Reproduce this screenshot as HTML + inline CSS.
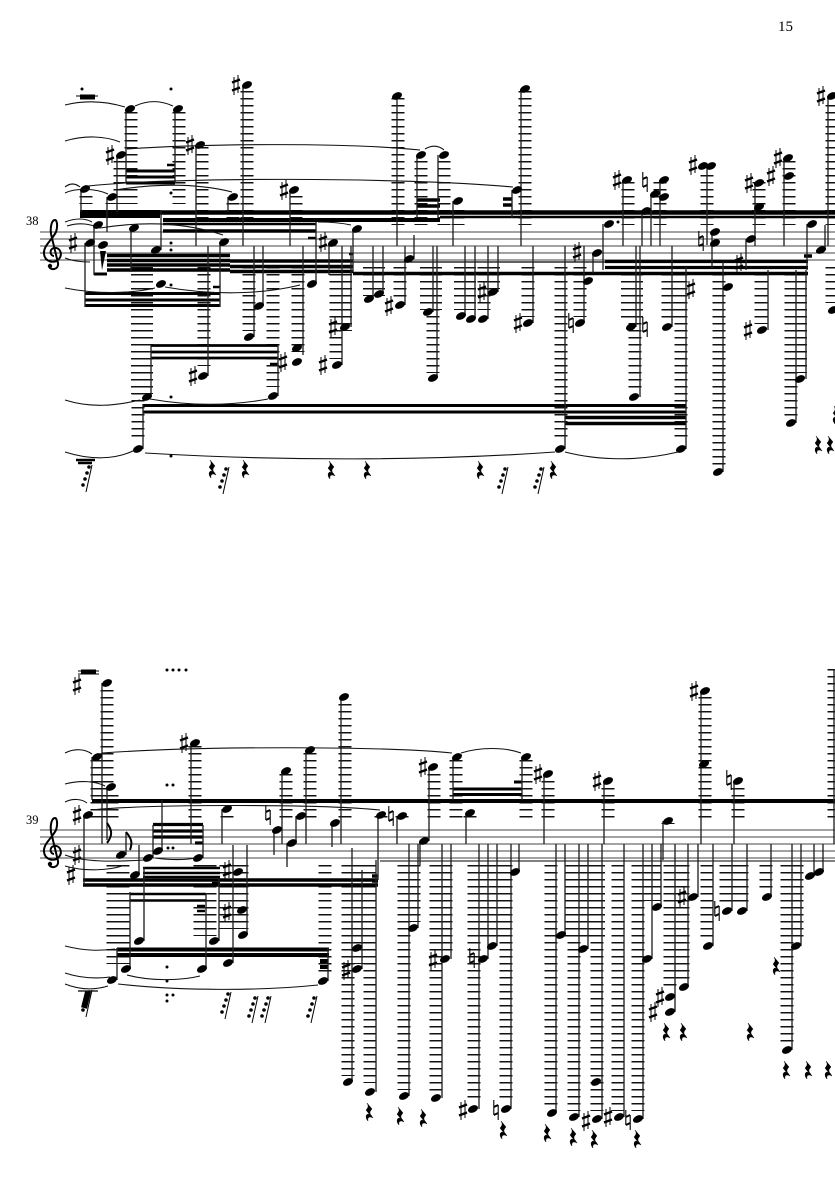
<!DOCTYPE html>
<html><head><meta charset="utf-8"><style>
html,body{margin:0;padding:0;background:#fff}
svg{display:block}
.s{stroke:#222;stroke-width:1.35;fill:none}
.st{stroke:#444;stroke-width:1;fill:none}
.b{stroke:#000;fill:none}
.sl{stroke:#111;stroke-width:1.1;fill:none}
.l{stroke:#111;fill:none;stroke-dasharray:1.5 5.5}
text{font-family:"Liberation Serif",serif;fill:#000}
</style></head><body>
<svg width="835" height="1181" viewBox="0 0 835 1181" xmlns="http://www.w3.org/2000/svg">
<defs>
<ellipse id="n" rx="5.3" ry="3.4" transform="rotate(-25)"/>
<g id="sh" stroke="#000" fill="none"><path d="M-2 -8V10M2 -10V8" stroke-width="1"/><path d="M-4 -2.500L4 -5.500M-4 5.500L4 2.500" stroke-width="2.400"/></g>
<g id="na" stroke="#000" fill="none"><path d="M-2.200 -10V5M2.200 -5V10" stroke-width="1.100"/><path d="M-2.200 -3L2.200 -5M-2.200 5L2.200 3" stroke-width="2"/></g>
<path id="r" d="M-2 -9L3 -3C1 -1 0 1 2 3L4 6C1 4 -2 5 -1 9C-3 7 -4 3 -1 2L1 3L-3 -2C-1 -4 0 -6 -2 -9Z" fill="#000" stroke="#000" stroke-width=".5"/>
<g id="r3"><path d="M5 -13L-1 14" stroke="#000" stroke-width="1"/><circle cx="2" cy="-11" r="1.800"/><circle cx="0" cy="-5" r="1.800"/><circle cx="-2" cy="1" r="1.800"/><circle cx="-4" cy="7" r="1.800"/></g>
<path id="c" d="M54 256C50 256 49 249 54 248C60 247 63 254 59 259C54 264 45 262 44 254C43 246 52 240 56 232C58 226 57 220 55 220C52 220 50 226 51 234L58 263C59 270 50 271 49 266" fill="none" stroke="#000" stroke-width="2"/>
</defs>

<text x="778" y="31" font-size="15">15</text>
<text x="26" y="225" font-size="12.500">38</text>
<text x="26" y="824" font-size="12.500">39</text>

<!-- staves -->
<path class="st" d="M40 232H835M40 239H835M40 246H835M40 253H835M40 260H835M40 830H835M40 837H835M40 844H835M40 851H835M40 858H835"/>
<use href="#c"/><use href="#c" y="598"/>
<circle cx="50" cy="266" r="2.200"/><circle cx="50" cy="864" r="2.200"/>

<!-- ledgers S1 -->
<g class="l">
<path stroke-width="13" d="M131 112V204M179 112V204M120 161V204M86 196V204M112 203V204M202 147V225M247 91V225M233 203V225M296 196V225M398 98V225M421 161V225M444 161V225M458 210V225M525 91V225M628 182V225M660 182V225M707 175V225M759 182V225M789 161V225M832 105V225"/>
<path stroke-width="13" d="M138 267V442M204 267V366M249 267V331M273 267V387M298 267V352M336 267V359M400 267V300M433 267V373M484 267V310M528 267V317M561 267V442M580 267V317M635 267V391M668 267V321M681 267V442M719 267V466M761 267V324M791 267V417M832 267V303"/>
<path stroke-width="22" d="M142 267V394M341 267V331M374 267V296M431 267V310M465 267V310M489 267V289M632 267V321M796 267V373"/>
</g>
<!-- ledgers S2 -->
<g class="l">
<path stroke-width="13" d="M107 690V823M97 760V823M112 795V823M195 746V823M286 774V823M310 753V823M227 816V823M345 704V823M381 816V823M402 816V823M434 774V823M456 760V823M470 816V823M526 760V823M548 781V823M608 788V823M668 823V824M705 697V823M738 788V823M834 669V823"/>
<path stroke-width="13" d="M325 865V974M348 865V1076M370 865V1083M404 865V1090M436 865V1091M474 865V1103M506 865V1103M551 865V1107M574 865V1111M597 865V1111M618 865V1111M638 865V1111M670 865V991M683 865V981M707 865V940M766 865V891M787 865V1044"/>
<path stroke-width="23" d="M118 865V964M205 865V936M360 865V964M409 865V922M441 865V952M792 865V940"/>
<path stroke-width="29" d="M234 865V929M647 865V901M734 865V905"/>
<path stroke-width="40" d="M489 865V940M585 865V940"/>
</g>

<!-- beams S1 -->
<g class="b">
<path stroke-width="4.500" d="M160 212.500H835"/>
<path stroke-width="8" d="M80 214H160"/>
<path stroke-width="4" d="M163 220H440"/>
<path stroke-width="2.400" d="M440 217H835"/>
<path stroke-width="2.500" d="M163 224H316"/>
<path stroke-width="3.500" d="M163 231H316"/>
<path stroke-width="2.500" d="M308 238H316M349 254H353M167 165H175M213 287H220M270 364H278"/>
<path stroke-width="3" d="M126 171H175M126 177H175M126 183H175M94 274H107"/>
<path stroke-width="3.500" d="M417 200H440M417 206H440M503 199H512M503 205H512M804 256H812"/>
<path stroke-width="3.500" d="M107 255.500H230M107 260.500H230M107 265H230M107 270H230"/>
<path stroke-width="3.500" d="M230 261H353M230 266.500H353M230 271.500H353"/>
<path stroke-width="1.200" d="M353 262H605"/>
<path stroke-width="3.500" d="M353 273.500H808"/>
<path stroke-width="3.200" d="M605 261.500H808M605 267.500H808"/>
<path stroke-width="3" d="M85 293.500H220M85 300H220M85 305.500H220"/>
<path stroke-width="2.800" d="M151 345.500H278M151 352H278M151 358H278"/>
<path stroke-width="3" d="M143 405.500H686M143 412H686"/>
<path stroke-width="3.500" d="M565 417.500H686M565 423.500H686"/>
<path stroke-width="5" d="M80 97H95"/><path stroke-width="1" d="M76 96H98"/>
</g>
<!-- beams S2 -->
<g class="b">
<path stroke-width="4" d="M92 801H835"/>
<path stroke-width="5" d="M81 672H96"/><path stroke-width="1" d="M78 671H99M78 674H99"/>
<path stroke-width="3.200" d="M153 824.500H203M153 831H203M153 837H203M195 843H203"/>
<path stroke-width="2.500" d="M143 868H220M143 873H220M143 877H220M212 883H220"/>
<path stroke-width="3.500" d="M83 880H378M83 885H378M372 876H378M372 881H378"/>
<path stroke-width="2.500" d="M130 894H206M130 900.500H206M197 906H205M197 911H205"/>
<path stroke-width="4" d="M117 949.500H329M117 955H329M320 961H328M320 967H328"/>
<path stroke-width="3" d="M453 789H522M453 794.500H522M514 782H522"/>
<path stroke-width="1" d="M380 861H835"/>
</g>

<!-- stems -->
<path class="s" d="M126 109V183M175 109V183M117 155V212M81 189V212M107 197V232M196 145V246M243 85V246M228 197V212M290 190V246M94 225V275M85 243V307M131 228V272M161 210V250M220 242V307M208 246V376M254 246V337M263 246V306M303 246V355M316 222V284M329 243V275M353 229V272M351 246V327M342 246V365M373 246V299M383 246V294M405 246V305M414 235V259M433 246V312M437 246V378M465 246V316M475 246V319M488 246V319M498 246V292M533 246V323M397 95V246M417 155V218M438 155V218M453 201V246M521 89V246M512 190V218M603 224V270M593 253V273M584 246V323M565 246V449M623 180V246M660 180V246M651 194V246M642 211V246M640 246V397M636 246V327M672 246V327M686 267V449M151 345V397M143 404V449M278 345V396M707 166V245M712 232V268M755 183V246M746 239V270M784 158V246M807 224V270M825 225V250M828 96V246M723 262V472M768 270V330M806 270V379M796 270V423"/>
<path class="s" d="M102 683V844M92 757V800M107 787V840M84 815V885M191 743V844M282 771V844M222 809V844M274 830V855M287 843V867M296 816V843M306 750V844M332 823V847M341 697V844M378 815V880M397 816V844M420 841V865M429 767V841M453 757V800M522 757V800M466 813V844M544 774V844M519 844V872M162 800V851M153 825V858M203 825V858M126 832V855M139 845V875M144 867V941M130 892V969M206 893V969M117 948V980M328 948V981M219 878V941M233 845V963M247 845V935M362 870V969M352 848V1082M376 860V1092M409 844V1096M418 844V928M442 844V1098M451 844V959M479 844V1109M488 844V959M497 844V946M511 844V1109M556 844V1113M565 844V935M579 844V1117M588 844V949M602 844V1119M624 844V1117M643 844V1119M652 844V959M661 844V907M688 844V987M675 844V1012M698 844V897M713 844V946M732 844V911M747 844V911M771 844V897M801 844V946M792 844V1050M814 844V876M823 844V872M604 781V844M663 821V860M701 691V844M734 781V844M834 669V844"/>

<!-- note heads -->
<g fill="#000">
<use href="#n" x="130" y="109"/><use href="#n" x="178" y="109"/><use href="#n" x="121" y="155"/><use href="#n" x="85" y="189"/><use href="#n" x="112" y="197"/><use href="#n" x="200" y="145"/><use href="#n" x="247" y="85"/><use href="#n" x="233" y="197"/><use href="#n" x="294" y="190"/>
<use href="#n" x="98" y="225"/><use href="#n" x="90" y="243"/><use href="#n" x="103" y="245"/><use href="#n" x="134" y="228"/><use href="#n" x="156" y="250"/><use href="#n" x="224" y="242"/><use href="#n" x="161" y="284"/>
<use href="#n" x="203" y="376"/><use href="#n" x="249" y="337"/><use href="#n" x="259" y="306"/><use href="#n" x="273" y="396"/><use href="#n" x="147" y="397"/><use href="#n" x="138" y="449"/><use href="#n" x="297" y="348"/><use href="#n" x="297" y="362"/><use href="#n" x="312" y="284"/><use href="#n" x="333" y="243"/><use href="#n" x="357" y="229"/>
<use href="#n" x="345" y="327"/><use href="#n" x="337" y="365"/><use href="#n" x="369" y="299"/><use href="#n" x="379" y="294"/><use href="#n" x="400" y="305"/><use href="#n" x="409" y="259"/><use href="#n" x="428" y="312"/><use href="#n" x="433" y="378"/><use href="#n" x="461" y="316"/><use href="#n" x="471" y="319"/><use href="#n" x="483" y="319"/><use href="#n" x="493" y="292"/><use href="#n" x="528" y="323"/>
<use href="#n" x="397" y="96"/><use href="#n" x="421" y="155"/><use href="#n" x="444" y="155"/><use href="#n" x="458" y="201"/><use href="#n" x="525" y="89"/><use href="#n" x="517" y="190"/>
<use href="#n" x="609" y="224"/><use href="#n" x="597" y="253"/><use href="#n" x="588" y="281"/><use href="#n" x="580" y="323"/><use href="#n" x="560" y="449"/><use href="#n" x="681" y="449"/><use href="#n" x="627" y="180"/><use href="#n" x="664" y="180"/><use href="#n" x="664" y="197"/><use href="#n" x="655" y="194"/><use href="#n" x="646" y="211"/><use href="#n" x="703" y="166"/><use href="#n" x="711" y="166"/><use href="#n" x="715" y="232"/><use href="#n" x="715" y="243"/><use href="#n" x="759" y="183"/><use href="#n" x="759" y="207"/><use href="#n" x="751" y="239"/><use href="#n" x="788" y="158"/><use href="#n" x="789" y="176"/><use href="#n" x="812" y="224"/><use href="#n" x="821" y="250"/><use href="#n" x="832" y="96"/><use href="#n" x="728" y="287"/><use href="#n" x="718" y="472"/><use href="#n" x="762" y="330"/><use href="#n" x="800" y="379"/><use href="#n" x="791" y="423"/><use href="#n" x="833" y="310"/><use href="#n" x="634" y="397"/><use href="#n" x="631" y="327"/><use href="#n" x="667" y="327"/>
<!-- S2 -->
<use href="#n" x="107" y="683"/><use href="#n" x="97" y="757"/><use href="#n" x="111" y="787"/><use href="#n" x="88" y="815"/><use href="#n" x="195" y="743"/><use href="#n" x="286" y="771"/><use href="#n" x="227" y="809"/><use href="#n" x="277" y="830"/><use href="#n" x="292" y="843"/><use href="#n" x="301" y="816"/><use href="#n" x="310" y="750"/><use href="#n" x="335" y="823"/><use href="#n" x="344" y="697"/><use href="#n" x="381" y="815"/><use href="#n" x="402" y="816"/><use href="#n" x="424" y="841"/><use href="#n" x="433" y="767"/><use href="#n" x="457" y="757"/><use href="#n" x="526" y="757"/><use href="#n" x="470" y="813"/><use href="#n" x="548" y="774"/><use href="#n" x="515" y="872"/>
<use href="#n" x="158" y="851"/><use href="#n" x="148" y="858"/><use href="#n" x="198" y="858"/><use href="#n" x="121" y="855"/><use href="#n" x="135" y="875"/><use href="#n" x="139" y="941"/><use href="#n" x="126" y="969"/><use href="#n" x="202" y="969"/><use href="#n" x="112" y="980"/><use href="#n" x="323" y="981"/><use href="#n" x="214" y="941"/><use href="#n" x="228" y="963"/><use href="#n" x="242" y="910"/><use href="#n" x="243" y="935"/><use href="#n" x="238" y="872"/><use href="#n" x="357" y="948"/><use href="#n" x="357" y="969"/><use href="#n" x="348" y="1082"/><use href="#n" x="370" y="1092"/><use href="#n" x="413" y="928"/><use href="#n" x="404" y="1096"/>
<use href="#n" x="436" y="1098"/><use href="#n" x="445" y="959"/><use href="#n" x="473" y="1109"/><use href="#n" x="483" y="959"/><use href="#n" x="492" y="946"/><use href="#n" x="506" y="1109"/><use href="#n" x="552" y="1113"/><use href="#n" x="561" y="935"/><use href="#n" x="574" y="1117"/><use href="#n" x="583" y="949"/><use href="#n" x="597" y="1119"/><use href="#n" x="596" y="1082"/><use href="#n" x="619" y="1117"/><use href="#n" x="638" y="1119"/><use href="#n" x="647" y="959"/><use href="#n" x="657" y="907"/><use href="#n" x="684" y="987"/><use href="#n" x="670" y="997"/><use href="#n" x="670" y="1012"/><use href="#n" x="693" y="897"/><use href="#n" x="708" y="946"/><use href="#n" x="727" y="911"/><use href="#n" x="742" y="911"/><use href="#n" x="767" y="897"/><use href="#n" x="796" y="946"/><use href="#n" x="787" y="1050"/><use href="#n" x="810" y="876"/><use href="#n" x="819" y="872"/><use href="#n" x="608" y="781"/><use href="#n" x="668" y="821"/><use href="#n" x="705" y="691"/><use href="#n" x="704" y="764"/><use href="#n" x="738" y="781"/>
<!-- dots -->
<circle cx="171" cy="89" r="1.500"/><circle cx="171" cy="193" r="1.500"/><circle cx="171" cy="243" r="1.500"/><circle cx="171" cy="250" r="1.500"/><circle cx="171" cy="285" r="1.500"/><circle cx="171" cy="397" r="1.500"/><circle cx="171" cy="456" r="1.500"/><circle cx="618" cy="222" r="1.500"/><circle cx="82" cy="89" r="1.500"/>
<circle cx="167" cy="670" r="1.500"/><circle cx="173" cy="670" r="1.500"/><circle cx="179" cy="670" r="1.500"/><circle cx="186" cy="670" r="1.500"/><circle cx="167" cy="785" r="1.500"/><circle cx="173" cy="785" r="1.500"/><circle cx="168" cy="848" r="1.500"/><circle cx="173" cy="848" r="1.500"/><circle cx="167" cy="967" r="1.500"/><circle cx="167" cy="981" r="1.500"/><circle cx="167" cy="995" r="1.500"/><circle cx="173" cy="995" r="1.500"/><circle cx="167" cy="1001" r="1.500"/>
</g>

<!-- sharps -->
<g>
<use href="#sh" x="110" y="155"/><use href="#sh" x="190" y="145"/><use href="#sh" x="236" y="85"/><use href="#sh" x="284" y="190"/><use href="#sh" x="73" y="243"/><use href="#sh" x="193" y="376"/><use href="#sh" x="283" y="362"/><use href="#sh" x="323" y="242"/><use href="#sh" x="333" y="327"/><use href="#sh" x="323" y="365"/><use href="#sh" x="389" y="306"/><use href="#sh" x="482" y="292"/><use href="#sh" x="518" y="323"/><use href="#sh" x="577" y="252"/><use href="#sh" x="617" y="180"/><use href="#sh" x="693" y="165"/><use href="#sh" x="691" y="289"/><use href="#sh" x="739" y="263"/><use href="#sh" x="749" y="183"/><use href="#sh" x="771" y="176"/><use href="#sh" x="778" y="158"/><use href="#sh" x="821" y="96"/><use href="#sh" x="748" y="330"/>
<use href="#sh" x="77" y="685"/><use href="#sh" x="77" y="815"/><use href="#sh" x="77" y="855"/><use href="#sh" x="71" y="875"/><use href="#sh" x="184" y="743"/><use href="#sh" x="227" y="870"/><use href="#sh" x="227" y="912"/><use href="#sh" x="346" y="970"/><use href="#sh" x="423" y="767"/><use href="#sh" x="538" y="774"/><use href="#sh" x="433" y="960"/><use href="#sh" x="463" y="1110"/><use href="#sh" x="586" y="1121"/><use href="#sh" x="608" y="1117"/><use href="#sh" x="660" y="997"/><use href="#sh" x="653" y="1012"/><use href="#sh" x="682" y="897"/><use href="#sh" x="597" y="781"/><use href="#sh" x="694" y="691"/>
<!-- naturals -->
<use href="#na" x="645" y="182"/><use href="#na" x="701" y="241"/><use href="#na" x="571" y="323"/><use href="#na" x="645" y="327"/><use href="#na" x="268" y="815"/><use href="#na" x="391" y="816"/><use href="#na" x="472" y="958"/><use href="#na" x="496" y="1110"/><use href="#na" x="628" y="1120"/><use href="#na" x="717" y="911"/><use href="#na" x="729" y="780"/>
<!-- rests -->
<use href="#r" x="212" y="469"/><use href="#r" x="245" y="469"/><use href="#r" x="331" y="470"/><use href="#r" x="367" y="470"/><use href="#r" x="480" y="470"/><use href="#r" x="553" y="470"/><use href="#r" x="818" y="445"/><use href="#r" x="830" y="445"/><use href="#r" x="836" y="415"/>
<use href="#r" x="369" y="1112"/><use href="#r" x="400" y="1116"/><use href="#r" x="423" y="1118"/><use href="#r" x="503" y="1130"/><use href="#r" x="547" y="1133"/><use href="#r" x="573" y="1137"/><use href="#r" x="594" y="1139"/><use href="#r" x="637" y="1139"/><use href="#r" x="666" y="1032"/><use href="#r" x="683" y="1032"/><use href="#r" x="750" y="1032"/><use href="#r" x="786" y="1070"/><use href="#r" x="808" y="1070"/><use href="#r" x="828" y="1070"/><use href="#r" x="776" y="966"/>
<!-- grace/32nd rests -->
<use href="#r3" x="87" y="478"/><use href="#r3" x="224" y="480"/><use href="#r3" x="503" y="480"/><use href="#r3" x="539" y="480"/><use href="#r3" x="87" y="1003"/><use href="#r3" x="226" y="1005"/><use href="#r3" x="253" y="1009"/><use href="#r3" x="266" y="1009"/><use href="#r3" x="312" y="1009"/>
</g>
<path class="b" stroke-width="2.500" d="M76 460H95M78 463H92"/>
<path class="b" stroke-width="1.200" d="M78 991H98"/>
<path class="b" stroke-width="6" d="M88 992L84 1008"/>
<path class="b" stroke-width="2" d="M126 832C131 838 133 842 130 850M107 823C112 830 113 835 107 843"/>
<path fill="#000" d="M100 251L106 251L102 270Z"/>

<!-- slurs -->
<path class="sl" d="M65 105C85 100 105 101 125 107M135 106C148 100 160 100 173 106M65 141C85 135 105 136 120 142M65 187C70 183 75 183 80 187M65 193C75 188 95 188 108 194M88 186C170 177 400 177 513 187M127 149C200 144 340 142 420 150M115 190C160 183 200 184 232 192M425 149C432 145 438 145 444 150M65 222C75 218 85 218 92 222M67 226C80 222 90 224 100 228M100 228C150 220 190 224 223 235M318 222C330 222 342 223 351 225M65 258C75 262 85 262 90 262"/>
<path class="sl" d="M65 288C95 294 130 294 155 288M165 287C210 295 260 295 300 285M65 400C90 408 115 406 140 400M150 399C190 406 230 406 268 399M145 453C280 461 430 461 555 452M565 452C600 461 640 461 678 452M65 452C90 460 115 460 135 450"/>
<path class="sl" d="M65 753C75 748 85 749 92 754M102 753C200 746 380 746 452 753M65 784C80 780 95 781 105 786M65 802C73 798 82 799 87 803M92 810C150 804 320 804 380 810M461 753C480 747 505 747 521 753M65 855C85 862 110 862 145 860M65 866C85 872 110 870 122 866M155 858C170 860 185 860 195 858M65 946C85 951 100 951 115 949M65 973C80 978 95 979 110 977M65 984C80 990 95 990 108 986M127 975C150 981 180 981 200 976M118 984C180 991 260 991 318 985"/>
</svg>
</body></html>
